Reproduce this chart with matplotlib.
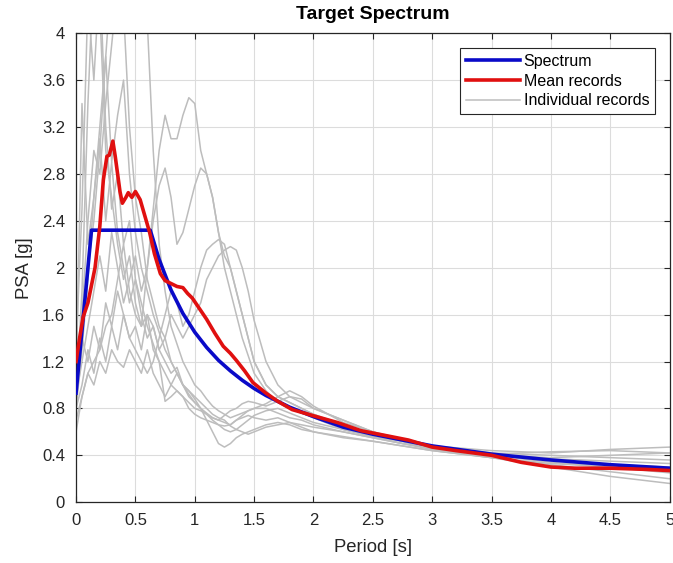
import matplotlib.pyplot as plt

plt.rcParams['font.family'] = ['Liberation Sans', 'DejaVu Sans']

# target spectrum (period [s], PSA [g])
periodo_espectro = [0, 0.13, 0.625, 0.7, 0.8, 0.9, 1.0, 1.1, 1.2, 1.3, 1.4, 1.5, 1.6,
                    1.8, 2.0, 2.25, 2.5, 2.75, 3.0, 3.5, 4.0, 4.5, 5.0]
psa_espectro = [0.93, 2.32, 2.32, 2.07, 1.81, 1.61, 1.45, 1.32, 1.21, 1.12, 1.04, 0.97, 0.91,
                0.81, 0.73, 0.64, 0.58, 0.53, 0.48, 0.41, 0.36, 0.32, 0.29]

# mean of the records
periodo_media = [0, 0.03, 0.06, 0.1, 0.13, 0.16, 0.2, 0.23, 0.26, 0.28, 0.31, 0.33, 0.35,
                 0.37, 0.39, 0.42, 0.44, 0.47, 0.5, 0.54, 0.58, 0.62, 0.66, 0.71, 0.75,
                 0.79, 0.85, 0.9, 0.94, 0.98, 1.04, 1.1, 1.17, 1.24, 1.3, 1.35, 1.42, 1.49,
                 1.6, 1.7, 1.82, 1.99, 2.2, 2.4, 2.6, 2.8, 3.0, 3.2, 3.5, 3.75, 4.0, 4.2,
                 4.5, 4.8, 5.0]
psa_media = [1.2, 1.4, 1.58, 1.7, 1.85, 2.0, 2.35, 2.75, 2.95, 2.96, 3.08, 2.95, 2.8,
             2.65, 2.55, 2.6, 2.64, 2.6, 2.65, 2.58, 2.44, 2.3, 2.12, 1.95, 1.89,
             1.87, 1.84, 1.83, 1.78, 1.74, 1.65, 1.56, 1.44, 1.33, 1.27, 1.21, 1.12, 1.02,
             0.93, 0.86, 0.79, 0.74, 0.68, 0.61, 0.57, 0.53, 0.47, 0.44, 0.40, 0.34, 0.30, 0.29,
             0.29, 0.28, 0.27]

# individual records, all sampled on the same periods
periodo_reg = [0, 0.05, 0.1, 0.15, 0.2, 0.25, 0.3, 0.35, 0.4, 0.45, 0.5, 0.55, 0.6, 0.65,
               0.7, 0.75, 0.8, 0.85, 0.9, 0.95, 1.0, 1.05, 1.1, 1.15, 1.2, 1.25, 1.3, 1.35,
               1.4, 1.45, 1.5, 1.6, 1.7, 1.8, 1.9, 2.0, 2.25, 2.5, 2.75, 3.0, 3.5, 4.0, 4.5, 5.0]
reg1 = [0.9, 1.8, 3.4, 4.6, 4.2, 3.0, 2.6, 2.2, 1.9, 2.1, 1.7, 1.5, 1.6, 1.3, 1.2, 1.1, 1.0,
        0.95, 0.9, 0.85, 0.8, 0.78, 0.75, 0.72, 0.7, 0.68, 0.66, 0.7, 0.72, 0.74, 0.72, 0.7,
        0.72, 0.68, 0.64, 0.6, 0.55, 0.52, 0.48, 0.44, 0.38, 0.33, 0.3, 0.26]
reg2 = [1.0, 3.4, 2.2, 2.6, 3.1, 2.4, 2.9, 2.3, 2.0, 1.7, 1.9, 1.6, 1.4, 1.5, 1.3, 1.2, 1.1,
        1.15, 1.0, 0.95, 0.9, 0.85, 0.8, 0.75, 0.72, 0.7, 0.65, 0.62, 0.6, 0.58, 0.6, 0.64,
        0.66, 0.68, 0.66, 0.64, 0.6, 0.55, 0.5, 0.46, 0.4, 0.36, 0.32, 0.3]
reg3 = [1.1, 1.5, 2.0, 2.4, 3.0, 3.8, 4.5, 4.8, 4.2, 3.2, 2.6, 2.3, 1.9, 1.7, 1.5, 1.4, 1.2,
        1.1, 1.0, 0.95, 0.88, 0.8, 0.75, 0.7, 0.66, 0.62, 0.6, 0.62, 0.66, 0.7, 0.74, 0.78,
        0.8, 0.76, 0.72, 0.68, 0.62, 0.56, 0.52, 0.48, 0.42, 0.4, 0.38, 0.36]
reg4 = [0.8, 1.3, 1.9, 2.6, 3.2, 3.8, 2.9, 3.3, 3.6, 2.8, 2.3, 2.0, 1.8, 1.6, 1.45, 1.3, 1.2,
        1.1, 1.0, 0.92, 0.85, 0.8, 0.76, 0.72, 0.7, 0.74, 0.78, 0.8, 0.84, 0.86, 0.85, 0.82,
        0.86, 0.9, 0.88, 0.8, 0.7, 0.6, 0.54, 0.48, 0.44, 0.42, 0.45, 0.47]
reg5 = [0.7, 0.9, 1.1, 1.2, 1.3, 1.5, 1.6, 1.9, 2.2, 1.8, 1.6, 1.5, 2.0, 2.5, 3.0, 3.3, 3.1,
        3.1, 3.3, 3.45, 3.4, 3.0, 2.8, 2.6, 2.3, 2.1, 2.0, 1.8, 1.6, 1.4, 1.2, 1.0, 0.9, 0.85,
        0.8, 0.75, 0.65, 0.58, 0.52, 0.46, 0.4, 0.38, 0.4, 0.42]
reg6 = [0.9, 1.2, 1.5, 1.8, 2.1, 1.8, 2.3, 2.0, 1.7, 1.9, 2.1, 1.8, 2.0, 2.4, 2.7, 2.85, 2.6,
        2.2, 2.3, 2.5, 2.7, 2.85, 2.8, 2.6, 2.3, 2.0, 1.8, 1.6, 1.4, 1.25, 1.1, 0.95, 0.85,
        0.8, 0.76, 0.72, 0.62, 0.56, 0.5, 0.45, 0.4, 0.34, 0.3, 0.28]
reg7 = [0.8, 1.0, 1.3, 1.1, 1.4, 1.2, 1.5, 1.3, 1.6, 1.4, 1.3, 1.2, 1.1, 1.2, 1.4, 1.6, 1.8,
        1.7, 1.5, 1.6, 1.8, 2.0, 2.15, 2.2, 2.24, 2.2, 2.0, 1.8, 1.6, 1.4, 1.2, 1.0, 0.9, 0.85,
        0.8, 0.75, 0.66, 0.58, 0.52, 0.46, 0.4, 0.36, 0.3, 0.25]
reg8 = [1.2, 1.4, 1.2, 1.5, 1.3, 1.7, 1.5, 1.8, 1.6, 1.4, 1.5, 1.3, 1.6, 1.5, 1.3, 1.4, 1.6,
        1.5, 1.4, 1.5, 1.6, 1.7, 1.9, 2.0, 2.1, 2.15, 2.18, 2.15, 2.0, 1.8, 1.55, 1.2, 1.0,
        0.9, 0.85, 0.8, 0.7, 0.6, 0.52, 0.45, 0.38, 0.32, 0.26, 0.2]
reg9 = [0.6, 0.9, 1.1, 1.0, 1.2, 1.1, 1.3, 1.2, 1.15, 1.3, 1.2, 1.1, 1.3, 1.1, 1.0, 0.9, 1.0,
        1.1, 1.0, 0.9, 0.85, 0.8, 0.7, 0.6, 0.5, 0.47, 0.5, 0.55, 0.58, 0.6, 0.62, 0.66, 0.68,
        0.66, 0.62, 0.6, 0.56, 0.52, 0.48, 0.44, 0.38, 0.3, 0.22, 0.16]
reg10 = [1.0, 1.6, 2.4, 3.0, 2.8, 3.4, 3.9, 4.4, 4.8, 5.0, 4.8, 4.5, 4.1, 3.0, 2.2, 1.8, 1.5,
         1.35, 1.2, 1.1, 1.0, 0.95, 0.88, 0.82, 0.78, 0.75, 0.72, 0.74, 0.76, 0.78, 0.8, 0.84,
         0.9, 0.95, 0.9, 0.82, 0.68, 0.6, 0.53, 0.47, 0.41, 0.37, 0.35, 0.33]
reg11 = [1.3, 2.5, 4.3, 3.6, 4.5, 3.2, 2.5, 2.8, 2.2, 2.4, 1.9, 1.7, 1.5, 1.35, 1.2, 0.86,
         0.9, 0.95, 0.9, 0.8, 0.75, 0.72, 0.7, 0.68, 0.66, 0.65, 0.66, 0.7, 0.74, 0.78, 0.8,
         0.8, 0.76, 0.72, 0.7, 0.66, 0.6, 0.55, 0.5, 0.46, 0.41, 0.43, 0.44, 0.42]
registros = [reg1, reg2, reg3, reg4, reg5, reg6, reg7, reg8, reg9, reg10, reg11]

x_ticks = [0, 0.5, 1, 1.5, 2, 2.5, 3, 3.5, 4, 4.5, 5]
x_labels = ['0', '0.5', '1', '1.5', '2', '2.5', '3', '3.5', '4', '4.5', '5']
y_ticks = [0, 0.4, 0.8, 1.2, 1.6, 2, 2.4, 2.8, 3.2, 3.6, 4]
y_labels = ['0', '0.4', '0.8', '1.2', '1.6', '2', '2.4', '2.8', '3.2', '3.6', '4']

cinza = '#bdbdbd'
eixo = '#262626'

fig = plt.figure(figsize=(6.73, 5.63), dpi=100)
ax = fig.add_axes([0.113, 0.108, 0.882, 0.833])

for i, reg in enumerate(registros):
    ax.plot(periodo_reg, reg, color=cinza, lw=1.1,
            label='Individual records' if i == 0 else None, zorder=2)
ax.plot(periodo_espectro, psa_espectro, color='#0a0ac8', lw=2.6, label='Spectrum', zorder=3)
ax.plot(periodo_media, psa_media, color='#e01010', lw=2.6, label='Mean records', zorder=4)

ax.set_xlim(0, 5)
ax.set_ylim(0, 4)
ax.set_xticks(x_ticks)
ax.set_xticklabels(x_labels)
ax.set_yticks(y_ticks)
ax.set_yticklabels(y_labels)
ax.grid(True, color='#dcdcdc', lw=0.8)
ax.set_axisbelow(True)
ax.tick_params(direction='in', top=True, right=True, length=4, width=0.8,
               colors=eixo, labelsize=12, pad=8)
for s in ax.spines.values():
    s.set_color(eixo)
    s.set_linewidth(0.9)

ax.set_xlabel('Period [s]', fontsize=13.3, color=eixo, labelpad=8)
ax.set_ylabel('PSA [g]', fontsize=13.3, color=eixo, labelpad=6)
ax.set_title('Target Spectrum', fontsize=14, fontweight='bold', color='black', pad=10)

h, l = ax.get_legend_handles_labels()
ordem = [l.index('Spectrum'), l.index('Mean records'), l.index('Individual records')]
leg = ax.legend([h[k] for k in ordem], [l[k] for k in ordem], loc='upper right',
                fontsize=11.5, fancybox=False, framealpha=1, edgecolor=eixo,
                handlelength=3.4, handletextpad=0.2, borderpad=0.35, labelspacing=0.3,
                borderaxespad=0, bbox_to_anchor=(0.975, 0.968))
leg.get_frame().set_linewidth(0.8)

fig.savefig('out.png', dpi=100)
